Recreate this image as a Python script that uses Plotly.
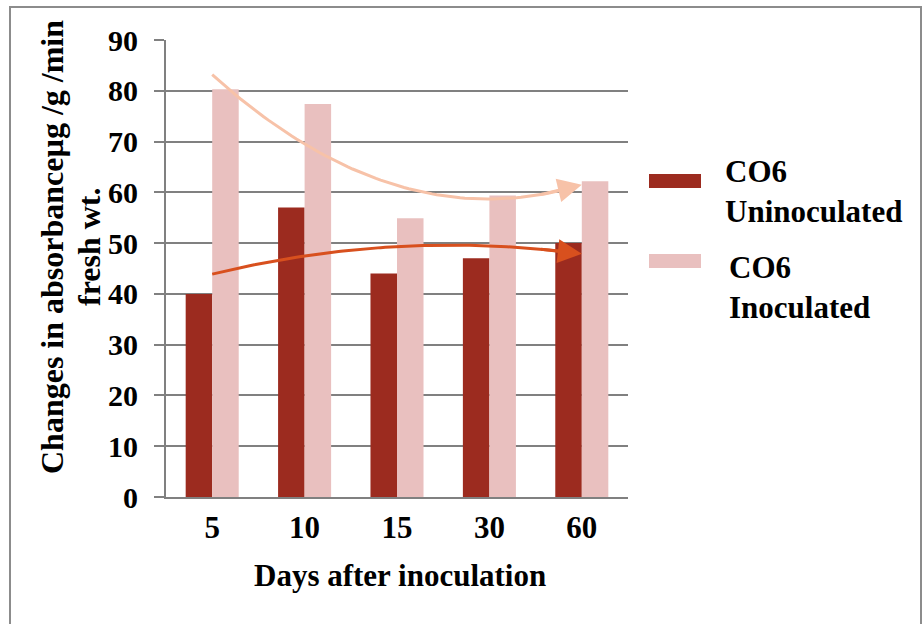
import numpy as np
import plotly.graph_objects as go

categories = ["5", "10", "15", "30", "60"]
uninoculated = [40, 57, 44, 47, 50]
inoculated = [80.3, 77.4, 54.9, 59.4, 62.2]
series_names = ["CO6<br>Uninoculated", "CO6<br>Inoculated"]

DARK = "#9C2B1F"
PINK = "#E9C0BF"
DARK_TREND = "#D8501E"
PINK_TREND = "#F7C2A8"
GRID = "#808080"
FONT = "Liberation Serif, Times New Roman, serif"

W, H = 922, 624
L, R, T, B = 166, 628, 40, 497


def px(x):
    return (x - L) / (R - L)


def py(y):
    return (B - y) / (B - T)


pos = list(range(len(categories)))
fig = go.Figure()
fig.add_trace(go.Bar(x=pos, y=uninoculated, marker=dict(color=DARK, line=dict(width=0)),
                     name="CO6 Uninoculated", showlegend=False))
fig.add_trace(go.Bar(x=pos, y=inoculated, marker=dict(color=PINK, line=dict(width=0)),
                     name="CO6 Inoculated", showlegend=False))

# Polynomial (order 2) trend lines, as in the spreadsheet chart
idx = np.arange(1, len(categories) + 1)
xs = np.linspace(1, len(categories), 80)
for vals, col in [(inoculated, PINK_TREND), (uninoculated, DARK_TREND)]:
    coef = np.polyfit(idx, vals, 2)
    ys = np.polyval(coef, xs)
    fig.add_trace(go.Scatter(x=xs[:-3] - 1, y=ys[:-3], mode="lines",
                             line=dict(color=col, width=3),
                             showlegend=False, hoverinfo="skip"))
    fig.add_annotation(x=xs[-1] - 1, y=ys[-1], ax=xs[-10] - 1, ay=ys[-10],
                       xref="x", yref="y", axref="x", ayref="y", text="",
                       showarrow=True, arrowhead=2, arrowsize=1.6, arrowwidth=3,
                       arrowcolor=col)

fig.update_layout(
    width=W, height=H,
    margin=dict(l=L, r=W - R, t=T, b=H - B),
    paper_bgcolor="white", plot_bgcolor="white",
    barmode="group", bargap=0.426, bargroupgap=0,
    font=dict(family=FONT, size=30, color="black", weight="bold"),
    xaxis=dict(range=[-0.5, len(categories) - 0.5], tickmode="array", tickvals=pos,
               ticktext=categories, showgrid=False, zeroline=False,
               showline=True, linecolor=GRID, linewidth=2, ticks="",
               ticklabelstandoff=2,
               tickfont=dict(family=FONT, size=31, weight="bold")),
    yaxis=dict(range=[0, 90], dtick=10, showgrid=True, gridcolor=GRID, gridwidth=2,
               zeroline=False, showline=True, linecolor=GRID, linewidth=2,
               ticks="outside", ticklen=10, tickcolor=GRID, tickwidth=2,
               ticklabelstandoff=10,
               tickfont=dict(family=FONT, size=30, weight="bold")),
)

# axis titles
fig.add_annotation(xref="paper", yref="paper", x=px(400), y=py(575),
                   text="Days after inoculation", showarrow=False,
                   font=dict(family=FONT, size=31, weight="bold"),
                   xanchor="center", yanchor="middle")
for line_text, cx in [("Changes in absorbanceµg /g /min", 52), ("fresh wt.", 89)]:
    fig.add_annotation(xref="paper", yref="paper", x=px(cx), y=py(247),
                       text=line_text, showarrow=False,
                       textangle=-90, font=dict(family=FONT, size=32, weight="bold"),
                       xanchor="center", yanchor="middle", align="center")

# legend
legend_items = [
    (series_names[0], DARK, 174, 188, 723, 191),
    (series_names[1], PINK, 254, 268, 727, 287),
]
for name, col, y0, y1, tx, ty in legend_items:
    fig.add_shape(type="rect", xref="paper", yref="paper",
                  x0=px(649), x1=px(701), y0=py(y1), y1=py(y0),
                  fillcolor=col, line=dict(width=0))
    fig.add_annotation(xref="paper", yref="paper", x=px(tx), y=py(ty), text=name,
                       showarrow=False, xanchor="left", yanchor="middle", align="left",
                       font=dict(family=FONT, size=31, weight="bold"))

# outer chart border
fig.add_shape(type="rect", xref="paper", yref="paper",
              x0=px(10), x1=px(921), y0=py(660), y1=py(7),
              line=dict(color="#8C8C8C", width=2), fillcolor="rgba(0,0,0,0)", layer="below")

fig.write_html("out.html")
